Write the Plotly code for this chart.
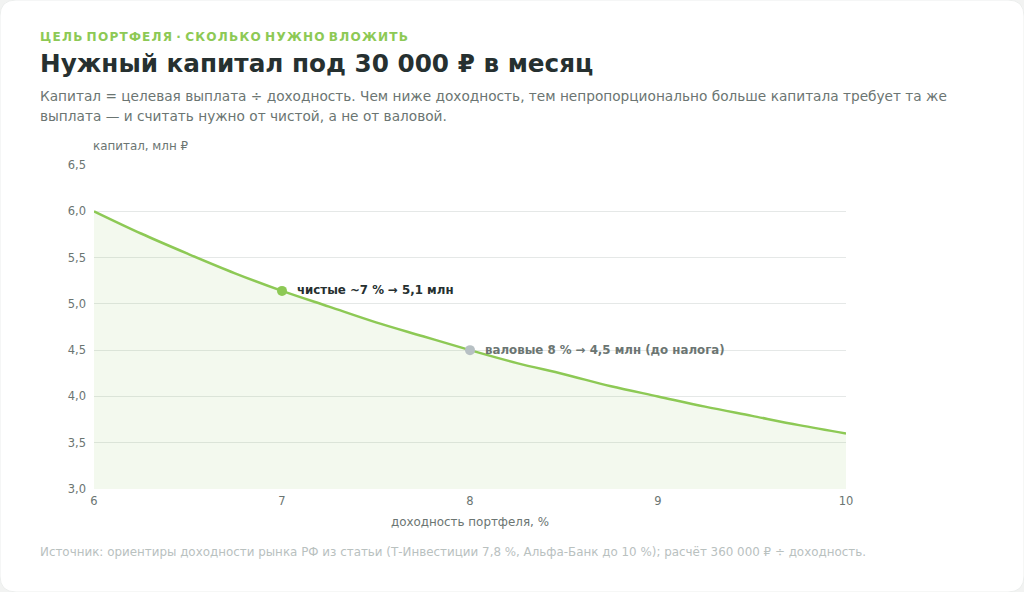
import plotly.graph_objects as go

# data
yields = [6.0, 6.25, 6.5, 6.75, 7.0, 7.25, 7.5, 7.75, 8.0, 8.25, 8.5, 8.75, 9.0, 9.25, 9.5, 9.75, 10.0]
capital = [6.00, 5.76, 5.54, 5.33, 5.14, 4.97, 4.80, 4.65, 4.50, 4.36, 4.24, 4.11, 4.00, 3.89, 3.79, 3.69, 3.60]
x_ticks = [6, 7, 8, 9, 10]
y_ticks = [3.0, 3.5, 4.0, 4.5, 5.0, 5.5, 6.0, 6.5]
net_point = (7.0, 5.14)
gross_point = (8.0, 4.50)
net_label = "чистые ~7 % → 5,1 млн"
gross_label = "валовые 8 % → 4,5 млн (до налога)"

W, H = 1024, 592
L, R, T, B = 94, 178, 165, 103
PW, PH = W - L - R, H - T - B

def px(x):
    return (x - L) / PW

def py(y):
    return (H - B - y) / PH

FONT = "DejaVu Sans"
GREEN = "#8dc955"

fig = go.Figure()
fig.add_trace(go.Scatter(
    x=yields, y=capital, mode="lines",
    line=dict(color=GREEN, width=2.5, shape="spline"),
    fill="tozeroy", fillcolor="rgba(141,201,85,0.10)",
    hoverinfo="skip", showlegend=False,
))
fig.add_trace(go.Scatter(
    x=[net_point[0]], y=[net_point[1]], mode="markers",
    marker=dict(color=GREEN, size=10), showlegend=False, hoverinfo="skip",
))
fig.add_trace(go.Scatter(
    x=[gross_point[0]], y=[gross_point[1]], mode="markers",
    marker=dict(color="#b7c0c4", size=10), showlegend=False, hoverinfo="skip",
))

# rounded white card
r = 16
x0, x1, y0, y1 = 0, W, 0, H
path = (
    f"M {px(x0 + r)} {py(y0)} L {px(x1 - r)} {py(y0)} "
    f"Q {px(x1)} {py(y0)} {px(x1)} {py(y0 + r)} "
    f"L {px(x1)} {py(y1 - r)} Q {px(x1)} {py(y1)} {px(x1 - r)} {py(y1)} "
    f"L {px(x0 + r)} {py(y1)} Q {px(x0)} {py(y1)} {px(x0)} {py(y1 - r)} "
    f"L {px(x0)} {py(y0 + r)} Q {px(x0)} {py(y0)} {px(x0 + r)} {py(y0)} Z"
)
fig.add_shape(type="path", path=path, xref="paper", yref="paper",
              fillcolor="white", line=dict(color="#eceeed", width=1), layer="below")

ann = []
def text(xp, yp, s, size, color, bold=False, xanchor="left", yanchor="middle"):
    ann.append(dict(
        x=px(xp), y=py(yp), xref="paper", yref="paper", showarrow=False,
        text=f"<b>{s}</b>" if bold else s, xanchor=xanchor, yanchor=yanchor,
        font=dict(family=FONT, size=size, color=color), align="left",
    ))

kicker = "ЦЕЛЬ ПОРТФЕЛЯ · СКОЛЬКО НУЖНО ВЛОЖИТЬ"
kicker_spaced = " ".join("\u200a".join(w) for w in kicker.split(" "))
text(38, 37, kicker_spaced, 12.1, GREEN, bold=True)
text(38, 64, "Нужный капитал под 30 000 ₽ в месяц", 24.7, "#263030", bold=True)
text(38, 96, "Капитал = целевая выплата ÷ доходность. Чем ниже доходность, тем непропорционально больше капитала требует та же", 13.7, "#6b7572")
text(38, 116, "выплата — и считать нужно от чистой, а не от валовой.", 13.7, "#6b7572")
text(91, 146, "капитал, млн ₽", 11.9, "#6b7572")
text(470, 522, "доходность портфеля, %", 11.9, "#6b7572", xanchor="center")
text(38, 552, "Источник: ориентиры доходности рынка РФ из статьи (Т-Инвестиции 7,8 %, Альфа-Банк до 10 %); расчёт 360 000 ₽ ÷ доходность.", 11.9, "#b9c1bf")

ann.append(dict(x=net_point[0], y=net_point[1], xref="x", yref="y", showarrow=False,
                text=f"<b>{net_label}</b>", xanchor="left", yanchor="middle", xshift=13, yshift=1,
                font=dict(family=FONT, size=11.8, color="#263030")))
ann.append(dict(x=gross_point[0], y=gross_point[1], xref="x", yref="y", showarrow=False,
                text=f"<b>{gross_label}</b>", xanchor="left", yanchor="middle", xshift=13, yshift=0,
                font=dict(family=FONT, size=11.8, color="#6b7572")))

fig.update_layout(
    width=W, height=H,
    margin=dict(l=L, r=R, t=T, b=B),
    paper_bgcolor="#f2f3f2", plot_bgcolor="rgba(0,0,0,0)",
    separators=", ",
    font=dict(family=FONT, size=11, color="#6b7572"),
    annotations=ann,
    xaxis=dict(range=[6, 10], tickvals=x_ticks, ticktext=[str(v) for v in x_ticks],
               showgrid=False, zeroline=False, showline=False, ticks="",
               ticklabelstandoff=3,
               tickfont=dict(size=11.5, color="#6b7572"), fixedrange=True),
    yaxis=dict(range=[3, 6.5], tickvals=y_ticks, tickformat=".1f",
               showgrid=True, gridcolor="#e5e8e7", gridwidth=1, zeroline=False,
               showline=False, ticks="", ticklabelstandoff=7,
               tickfont=dict(size=11.5, color="#6b7572"), fixedrange=True),
)

fig.write_html("out.html", config={"displayModeBar": False})
